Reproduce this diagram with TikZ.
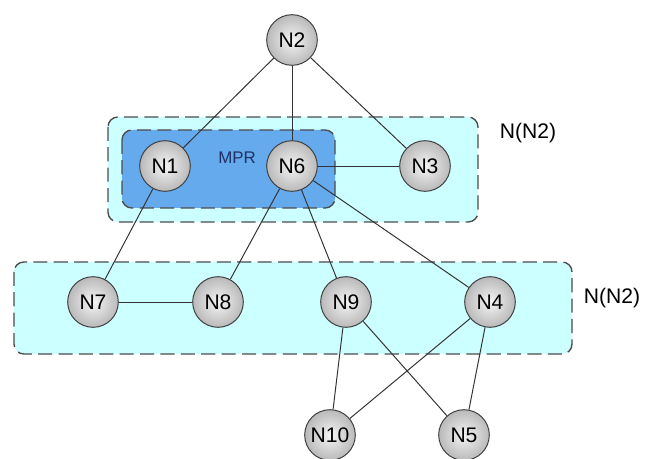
\documentclass[tikz,border=0pt]{standalone}
\usepackage{fontspec}
\setmainfont{Liberation Sans}
\usetikzlibrary{shapes, positioning, calc, backgrounds}

\definecolor{zonecyan}{RGB}{204,255,255}
\definecolor{mprblue}{RGB}{102,170,238}
\definecolor{mprtext}{RGB}{30,50,100}

\tikzset{
	nodeball/.style={circle, draw=black!75, line width=0.7pt, inner color=gray!8, outer color=gray!55, minimum size=36pt, inner sep=0pt, font=\fontsize{15}{15}\selectfont},
	zone/.style={draw=black!70, line width=1pt, dash pattern=on 10pt off 4.5pt, rounded corners=7pt},
	link/.style={draw=black!80, line width=0.7pt}
}

\begin{document}
\begin{tikzpicture}[x=0.025cm, y=-0.025cm]
		\useasboundingbox (0, 0) rectangle (647, 459);

		\coordinate (n2)  at (292, 40);
		\coordinate (n1)  at (165, 166);
		\coordinate (n6)  at (292, 166);
		\coordinate (n3)  at (425, 166);
		\coordinate (n7)  at (93, 302);
		\coordinate (n8)  at (218, 302);
		\coordinate (n9)  at (346, 302);
		\coordinate (n4)  at (490, 302);
		\coordinate (n10) at (330, 435);
		\coordinate (n5)  at (464, 435);

		% neighbourhood boxes
		\draw[zone, fill=zonecyan] (108, 117) rectangle (478, 222);
		\draw[zone, fill=mprblue] (122, 130) rectangle (335, 208);
		\draw[zone, fill=zonecyan] (14, 262) rectangle (572, 354);

		\node[font=\fontsize{12}{12}\selectfont, text=mprtext] (MPR) at (237, 158) {MPR};
		\node[font=\fontsize{15}{15}\selectfont, anchor=west] (TOP) at (495, 133) {N(N2)};
		\node[font=\fontsize{15}{15}\selectfont, anchor=west] (BOT) at (579, 298) {N(N2)};

		\node[nodeball] (N2)  at (n2)  {N2};
		\node[nodeball] (N1)  at (n1)  {N1};
		\node[nodeball] (N6)  at (n6)  {N6};
		\node[nodeball] (N3)  at (n3)  {N3};
		\node[nodeball] (N7)  at (n7)  {N7};
		\node[nodeball] (N8)  at (n8)  {N8};
		\node[nodeball] (N9)  at (n9)  {N9};
		\node[nodeball] (N4)  at (n4)  {N4};
		\node[nodeball] (N10) at (n10) {N10};
		\node[nodeball] (N5)  at (n5)  {N5};

		% links
		\draw[link] (N2) -- (N1);
		\draw[link] (N2) -- (N6);
		\draw[link] (N2) -- (N3);
		\draw[link] (N6) -- (N3);
		\draw[link] (N1) -- (N7);
		\draw[link] (N6) -- (N8);
		\draw[link] (N6) -- (N9);
		\draw[link] (N6) -- (N4);
		\draw[link] (N7) -- (N8);
		\draw[link] (N9) -- (N10);
		\draw[link] (N9) -- (N5);
		\draw[link] (N4) -- (N10);
		\draw[link] (N4) -- (N5);
	\end{tikzpicture}
\end{document}
